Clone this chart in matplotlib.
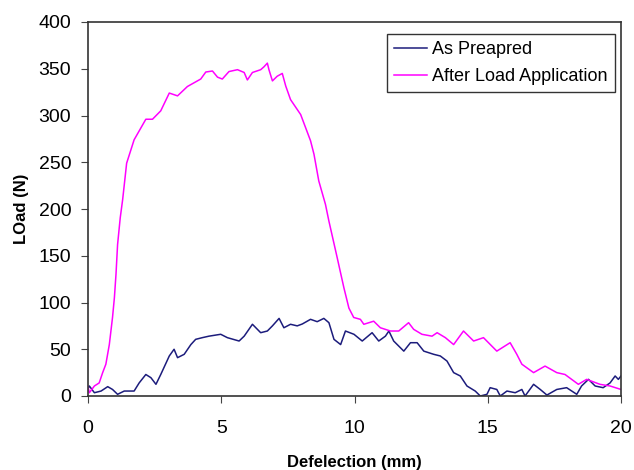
import matplotlib
matplotlib.use("Agg")
import matplotlib.pyplot as plt

plt.rcParams['font.family'] = ['Liberation Sans', 'DejaVu Sans']

# As Prepared (navy)
prep_x = [0.0, 0.05, 0.24, 0.49, 0.74, 0.92, 1.11, 1.36, 1.73, 1.92, 2.17, 2.36, 2.55, 2.73,
          3.05, 3.23, 3.36, 3.61, 3.86, 4.04, 4.29, 4.54, 4.98, 5.23, 5.67, 5.86, 6.17,
          6.48, 6.73, 6.92, 7.17, 7.35, 7.60, 7.85, 8.04, 8.35, 8.60, 8.85, 9.04, 9.23,
          9.48, 9.66, 9.98, 10.29, 10.66, 10.91, 11.16, 11.29, 11.47, 11.85, 12.10,
          12.35, 12.60, 12.97, 13.22, 13.47, 13.72, 13.97, 14.22, 14.53, 14.72, 14.97,
          15.09, 15.34, 15.47, 15.72, 16.03, 16.28, 16.40, 16.72, 16.97, 17.22, 17.59,
          17.96, 18.34, 18.52, 18.78, 19.03, 19.33, 19.59, 19.78, 19.90, 20.0]
prep_y = [8, 10.7, 3.5, 5.3, 10, 7, 1.8, 5.3, 5.3, 14, 23, 19.6, 12.5, 23,
          42.8, 50, 41, 44.6, 55, 60.6, 62.4, 64, 66, 62.4, 58.8, 64, 76.7,
          67.7, 69.5, 75, 83, 73, 76.7, 75, 77, 82, 79.5, 83, 78.4, 60.6,
          55, 69.5, 66, 58.8, 67.7, 58.8, 64, 69.5, 58.8, 48, 57,
          57, 48, 44.6, 42.8, 37.4, 25, 21.4, 10.7, 5.3, 0, 1.8,
          8.9, 7, 0, 5.3, 3.5, 7, 0, 12.5, 7, 1, 7,
          8.9, 1.8, 10.7, 17.8, 10.7, 8.9, 14, 21.4, 17.8, 21.4]

# After Load Application (magenta)
load_x = [0.0, 0.05, 0.24, 0.42, 0.55, 0.67, 0.80, 0.92, 0.99, 1.05, 1.11, 1.21, 1.30,
          1.45, 1.73, 2.17, 2.42, 2.73, 3.05, 3.36, 3.73, 4.23, 4.42, 4.67, 4.86, 5.04,
          5.29, 5.61, 5.86, 5.98, 6.17, 6.48, 6.60, 6.73, 6.79, 6.92, 7.10, 7.29, 7.42,
          7.60, 7.98, 8.35, 8.48, 8.66, 8.91, 9.04, 9.35, 9.60, 9.79, 9.97, 10.22,
          10.35, 10.72, 10.97, 11.35, 11.66, 12.03, 12.22, 12.53, 12.91, 13.10, 13.41,
          13.72, 14.09, 14.47, 14.84, 15.34, 15.84, 16.09, 16.28, 16.72, 17.15, 17.59,
          17.90, 18.40, 18.71, 19.21, 19.59, 20.0]
load_y = [10, 3.5, 10.7, 14, 25, 34, 55, 84, 105, 130, 162, 190.7, 210,
          249, 274, 296, 296, 305, 324, 321, 331, 339, 346.5, 347.6, 341, 339,
          347, 349, 346, 338, 346, 349, 352, 356, 349, 337, 342, 345, 331.5,
          317, 301, 273, 258.5, 230, 205, 187, 148, 116, 94, 84, 82,
          76.7, 80, 73, 69.5, 69.5, 78.4, 71.3, 66, 64, 67.7, 62.4,
          55, 69.5, 58.8, 62.4, 48, 57, 44.6, 34, 25, 32, 25,
          23, 12.5, 17.8, 12.5, 10.7, 7]

W, H = 634, 470
fig = plt.figure(figsize=(6.34, 4.70), dpi=100)
ax = fig.add_axes([88 / W, 1 - 396 / H, (621 - 88) / W, (396 - 22) / H])

ax.plot(prep_x, prep_y, color='#1c1c7c', lw=1.1, label='As Preapred')
ax.plot(load_x, load_y, color='#ff00ff', lw=1.1, label='After Load Application')

ax.set_xlim(0, 20)
ax.set_ylim(0, 400)
ax.set_xticks([0, 5, 10, 15, 20])
ax.set_yticks(range(0, 401, 50))
ax.tick_params(labelsize=14, direction='out', length=5, color='#444444')
ax.tick_params(axis='x', pad=12)
ax.tick_params(axis='y', pad=7)
for s in ax.spines.values():
    s.set_color('#333333')
    s.set_linewidth(1.2)

ax.set_xlabel('Defelection (mm)', fontsize=12, fontweight='bold', labelpad=13)
ax.set_ylabel('LOad (N)', fontsize=12, fontweight='bold', labelpad=7)

leg = ax.legend(loc='upper right', fontsize=13, frameon=True, fancybox=False,
                edgecolor='black', handlelength=1.8, borderpad=0.4,
                handletextpad=0.3, labelspacing=0.55, borderaxespad=0,
                bbox_to_anchor=(615 / W, 1 - 34 / H), bbox_transform=fig.transFigure)
leg.get_frame().set_linewidth(1.0)

fig.savefig('out.png', dpi=100)
